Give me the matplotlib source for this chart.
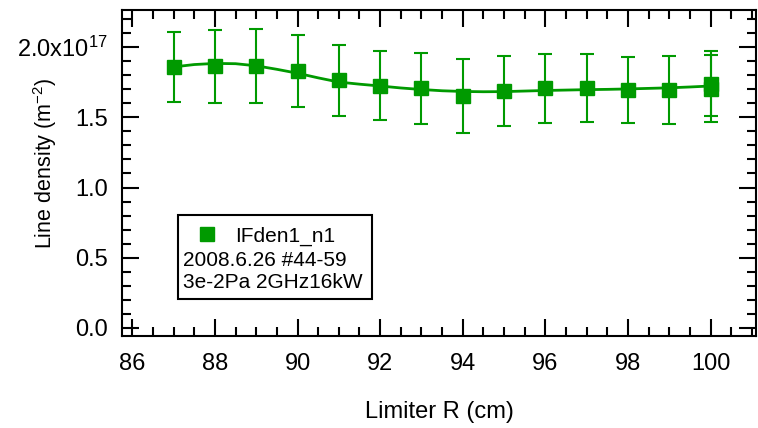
import numpy as np
import matplotlib
matplotlib.use("Agg")
import matplotlib.pyplot as plt
from matplotlib.ticker import MultipleLocator, FixedLocator, FixedFormatter
from matplotlib.patches import Rectangle

plt.rcParams['font.family'] = ['Liberation Sans', 'DejaVu Sans']
plt.rcParams['mathtext.fontset'] = 'custom'
plt.rcParams['mathtext.rm'] = 'Liberation Sans'
plt.rcParams['mathtext.default'] = 'regular'

# data, line density in units of 1e17 m^-2
limiter_r = [87, 88, 89, 90, 91, 92, 93, 94, 95, 96, 97, 98, 99, 100, 100]
density = [1.858, 1.864, 1.866, 1.831, 1.764, 1.727, 1.707, 1.655, 1.687,
           1.707, 1.707, 1.694, 1.694, 1.741, 1.704]
density_err = [0.248, 0.262, 0.263, 0.256, 0.251, 0.248, 0.252, 0.264, 0.249,
               0.248, 0.243, 0.235, 0.244, 0.232, 0.238]

# smooth curve
fit_r = [87.0, 87.5, 88.0, 88.5, 89.0, 89.5, 90.0, 90.5, 91.0, 91.5, 92.0,
         92.5, 93.0, 93.5, 94.0, 94.5, 95.0, 95.5, 96.0, 96.5, 97.0, 97.5,
         98.0, 98.5, 99.0, 99.5, 100.0]
fit_density = [1.860, 1.877, 1.885, 1.883, 1.868, 1.843, 1.815, 1.782, 1.752,
               1.737, 1.724, 1.710, 1.699, 1.690, 1.685, 1.683, 1.684, 1.688,
               1.692, 1.695, 1.698, 1.700, 1.703, 1.707, 1.711, 1.717, 1.724]

ytick_vals = [0.0, 0.5, 1.0, 1.5, 2.0]
ytick_labels = ["0.0", "0.5", "1.0", "1.5", "2.0x10$^{17}$"]
xtick_vals = [86, 88, 90, 92, 94, 96, 98, 100]

legend_lines = ["IFden1_n1", "2008.6.26 #44-59", "3e-2Pa 2GHz16kW"]

green = "#009a00"
W, H = 758, 428

fig = plt.figure(figsize=(W / 100, H / 100), dpi=100)
ax = fig.add_axes([122 / W, (H - 336) / H, (756 - 122) / W, (336 - 10) / H])

ax.plot(fit_r, fit_density, color=green, lw=2.0, zorder=2)
ax.errorbar(limiter_r, density, yerr=density_err, fmt="s", color=green,
            ms=9.4, elinewidth=1.5, capsize=4.7, capthick=1.5, zorder=3)

ax.set_xlim(85.75, 101.1)
ax.set_ylim(-0.059, 2.266)

ax.xaxis.set_major_locator(FixedLocator(xtick_vals))
ax.xaxis.set_minor_locator(MultipleLocator(0.5))
ax.yaxis.set_major_locator(FixedLocator(ytick_vals))
ax.yaxis.set_major_formatter(FixedFormatter(ytick_labels))
ax.yaxis.set_minor_locator(MultipleLocator(0.1))

ax.tick_params(which="both", direction="in", top=True, right=True,
               width=1.5, labelsize=17)
ax.tick_params(which="major", length=12.5)
ax.tick_params(which="minor", length=6.5)
ax.tick_params(axis="x", pad=12)
ax.tick_params(axis="y", pad=10)
for s in ax.spines.values():
    s.set_linewidth(1.5)

ax.set_xlabel("Limiter R (cm)", fontsize=17)
ax.set_ylabel("Line density (m$^{-2}$)", fontsize=15.5)
ax.xaxis.set_label_coords(0.5, -0.2)
ax.yaxis.set_label_coords(-0.1, 0.53)

# legend box
def fx(x):
    return x / W

def fy(y):
    return 1 - y / H

fig.patches.append(Rectangle((fx(178), fy(299)), (372 - 178) / W, (299 - 215) / H,
                             transform=fig.transFigure, fill=False,
                             edgecolor="black", lw=1.5, zorder=5))
fig.add_artist(plt.Line2D([fx(207)], [fy(234)], marker="s", ms=9.4,
                          color=green, lw=0, transform=fig.transFigure))
fig.text(fx(235), fy(242), legend_lines[0], fontsize=15, va="baseline")
fig.text(fx(183), fy(266), legend_lines[1], fontsize=15, va="baseline")
fig.text(fx(183), fy(288.5), legend_lines[2], fontsize=15, va="baseline")

fig.savefig("out.png", dpi=100)
